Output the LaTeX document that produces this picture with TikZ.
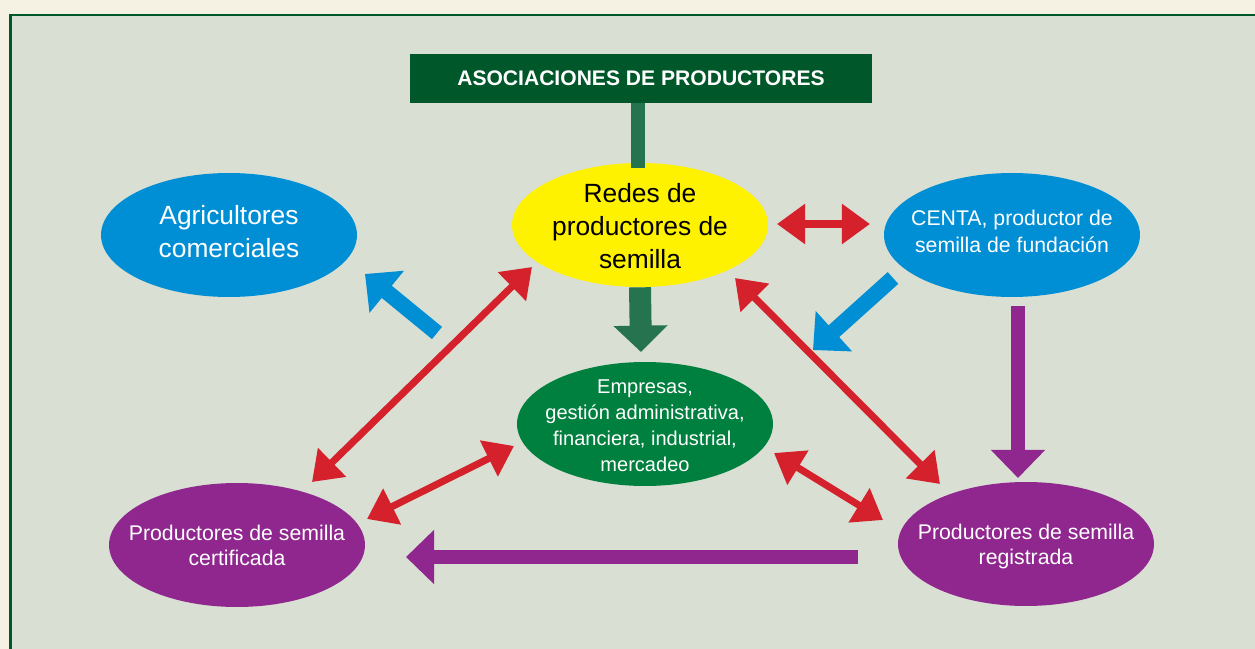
\documentclass[tikz,border=0pt]{standalone}
\usepackage{fontspec}
\setmainfont{Liberation Sans}
\usetikzlibrary{shapes.geometric,arrows.meta}
\definecolor{fondo}{HTML}{F5F2E3}
\definecolor{panel}{HTML}{D9DFD3}
\definecolor{verdeosc}{HTML}{00582A}
\definecolor{verdeflecha}{HTML}{267350}
\definecolor{verdeelipse}{HTML}{00803F}
\definecolor{amarillo}{HTML}{FFF200}
\definecolor{azul}{HTML}{008FD4}
\definecolor{rojo}{HTML}{D4212C}
\definecolor{morado}{HTML}{8F278E}
\newcommand{\centrado}[1]{\makebox[0pt]{\raisebox{-.4em}[0pt][0pt]{%
	\begin{tabular}[c]{@{}c@{}}#1\end{tabular}}}}
\begin{document}
\begin{tikzpicture}
		[x=0.02cm,y=-0.02cm,
		titulo/.style={fill=verdeosc,text=white,inner sep=0pt,
			minimum width=9.24cm,minimum height=0.98cm,
			font=\bfseries\fontsize{12}{14}\selectfont},
		elipse/.style={ellipse,inner sep=0pt,text=white,
			minimum width=5.12cm,minimum height=2.48cm},
		doble/.style={rojo,line width=4pt,
			{Triangle[length=16pt,width=22pt]}-{Triangle[length=16pt,width=22pt]}},
		azulflecha/.style={azul,line width=9pt,-{Triangle[length=16pt,width=30pt]}},
		moradoflecha/.style={morado,line width=8pt,-{Triangle[length=16pt,width=30pt]}}]
		\useasboundingbox[fill=fondo] (0,0) rectangle (1255,649);
		\draw[verdeosc,line width=1.7pt,fill=panel] (10.5,15) rectangle (1275,670);
		\node[titulo] (asoc) at (641,78.5) {ASOCIACIONES DE PRODUCTORES};
		\node[elipse,fill=amarillo,text=black,
			font=\fontsize{15}{18.7}\selectfont] (redes) at (640,225)
			{\centrado{Redes de\\productores de\\semilla}};
		\node[elipse,fill=verdeelipse,
			font=\fontsize{11.4}{14.7}\selectfont] (empresas) at (645,424)
			{\centrado{Empresas,\\gestión administrativa,\\financiera, industrial,\\mercadeo}};
		\node[elipse,fill=azul,
			font=\fontsize{15}{18.7}\selectfont] (agric) at (229,235)
			{\centrado{Agricultores\\comerciales\\[5pt]}};
		\node[elipse,fill=azul,
			font=\fontsize{12.1}{15.3}\selectfont] (centa) at (1012,235)
			{\centrado{CENTA, productor de\\semilla de fundación\\[5pt]}};
		\node[elipse,fill=morado,
			font=\fontsize{12.1}{14.2}\selectfont] (certif) at (237,545)
			{\centrado{Productores de semilla\\certificada}};
		\node[elipse,fill=morado,
			font=\fontsize{12.1}{14.2}\selectfont] (regist) at (1026,544)
			{\centrado{Productores de semilla\\registrada}};
		\coordinate (h1) at (777,224);
		\coordinate (h2) at (870,224);
		\coordinate (a1) at (312,482);
		\coordinate (a2) at (532,267);
		\coordinate (b1) at (735,278);
		\coordinate (b2) at (940,484);
		\coordinate (c1) at (367,519);
		\coordinate (c2) at (514,446);
		\coordinate (d1) at (774,453);
		\coordinate (d2) at (883,520);
		\coordinate (e1) at (437,333);
		\coordinate (e2) at (365,274);
		\coordinate (f1) at (893,278);
		\coordinate (f2) at (813,350);
		\coordinate (g1) at (1018,306);
		\coordinate (g2) at (1018,478);
		\coordinate (k1) at (858,557);
		\coordinate (k2) at (406,557);
		\coordinate (m1) at (641,352);
		\draw[verdeflecha,line width=8pt] (asoc.south -| 638,0) -- (638,168);
		\draw[verdeflecha,line width=12.5pt,-{Triangle[length=15pt,width=30pt]}]
			(redes.south) -- (m1);
		\draw[doble] (h1) -- (h2);
		\draw[doble] (a1) -- (a2);
		\draw[doble] (b1) -- (b2);
		\draw[doble] (c1) -- (c2);
		\draw[doble] (d1) -- (d2);
		\draw[azulflecha] (e1) -- (e2);
		\draw[azulflecha] (f1) -- (f2);
		\draw[moradoflecha] (g1) -- (g2);
		\draw[moradoflecha] (k1) -- (k2);
	\end{tikzpicture}
\end{document}
